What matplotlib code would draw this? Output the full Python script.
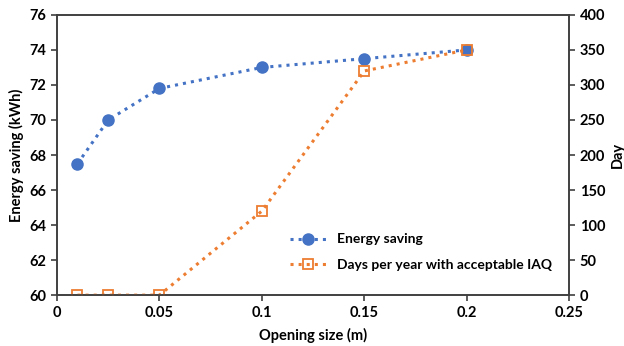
import matplotlib.pyplot as plt

plt.rcParams['font.family'] = ['Lato', 'DejaVu Sans']
plt.rcParams['font.weight'] = 'bold'

opening = [0.01, 0.025, 0.05, 0.1, 0.15, 0.2]
energy_saving = [67.5, 70.0, 71.8, 73.0, 73.5, 74.0]
days_ok = [0, 0, 0, 120, 320, 350]

BLUE = '#4472C4'
ORANGE = '#ED7D31'

fig = plt.figure(figsize=(6.24, 3.46), dpi=100)
ax = fig.add_axes([0.0913, 0.147, 0.821, 0.81])
ax2 = ax.twinx()

l1, = ax.plot(opening, energy_saving, ':', color=BLUE, lw=2.2, marker='o',
              ms=8, label='Energy saving')
l2, = ax2.plot(opening, days_ok, ':', color=ORANGE, lw=2.2, marker='s',
               ms=7, mfc='none', mew=1.3, label='Days per year with acceptable IAQ')

ax.set_xlim(0, 0.25)
ax.set_ylim(60, 76)
ax2.set_ylim(0, 400)
ax.set_xticks([0, 0.05, 0.1, 0.15, 0.2, 0.25])
ax.set_xticklabels(['0', '0.05', '0.1', '0.15', '0.2', '0.25'])
ax.set_yticks(range(60, 77, 2))
ax2.set_yticks(range(0, 401, 50))

for a in (ax, ax2):
    for s in a.spines.values():
        s.set_color('#404040')
        s.set_linewidth(1.2)
    a.tick_params(labelsize=10.5, width=1.2, length=4, color='#404040')

ax.set_xlabel('Opening size (m)', fontsize=10.5, fontweight='bold', labelpad=6)
ax.set_ylabel('Energy saving (kWh)', fontsize=10.5, fontweight='bold', labelpad=4)
ax2.set_ylabel('Day', fontsize=10.5, fontweight='bold', labelpad=4)

ax2.legend([l1, l2], [l1.get_label(), l2.get_label()], loc='upper left',
           bbox_to_anchor=(0.43, 0.265), frameon=False, fontsize=10,
           handlelength=2.6, labelspacing=1.0)

fig.savefig('out.png', dpi=100)
